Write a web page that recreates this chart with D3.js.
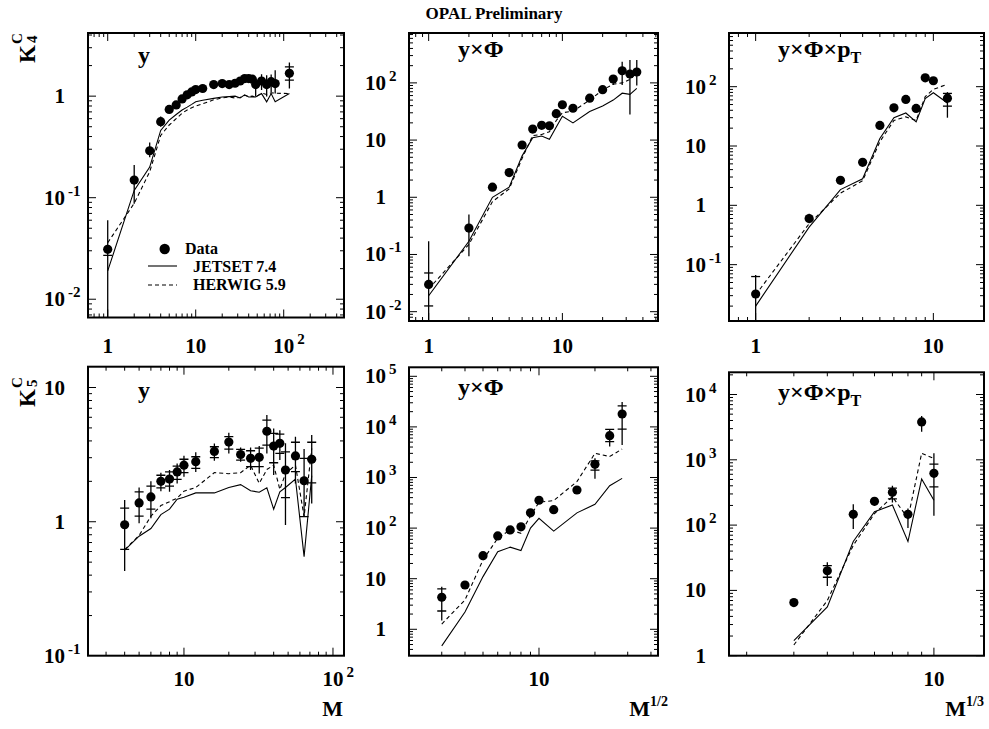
<!DOCTYPE html>
<html><head><meta charset="utf-8">
<script src="https://cdn.jsdelivr.net/npm/d3@7"></script>
<style>
body{margin:0;background:#fff;}
svg{display:block;}
text{font-family:"Liberation Serif","Times New Roman",serif;font-weight:bold;fill:#000;}
</style></head><body>
<svg id="c" width="989" height="729"></svg>
<script>
// ---------------- DATA ----------------
const chartTitle = "OPAL Preliminary";
const legendLabels = ["Data", "JETSET 7.4", "HERWIG 5.9"];
const rowTitles = ["4", "5"];             // K^C_4, K^C_5
const xTitles = ["M", "1/2", "1/3"];     // M, M^{1/2}, M^{1/3}
const panelLabels = ["y", "y×Φ", "y×Φ×p"];

// K4 vs M, y
const k4y_x      = [1,2,3,4,5,6,7,8,9,10,12,16,20,24,28,32,36,40,44,48,56,64,72,80,116];
const k4y_data   = [0.031,0.149,0.29,0.56,0.74,0.82,0.94,1.03,1.10,1.16,1.19,1.30,1.33,1.30,1.34,1.41,1.49,1.49,1.47,1.30,1.41,1.30,1.39,1.33,1.68];
const k4y_lo     = [0.0066,0.087,0.25,0.50,0.68,0.77,0.89,0.98,1.05,1.11,1.14,1.25,1.28,1.25,1.28,1.35,1.42,1.40,1.37,0.99,1.15,0.99,1.10,1.06,1.19];
const k4y_hi     = [0.060,0.21,0.35,0.63,0.80,0.87,0.99,1.08,1.15,1.21,1.24,1.35,1.38,1.35,1.40,1.47,1.56,1.58,1.58,1.49,1.64,1.61,1.63,1.80,2.15];
const k4y_tlo    = [0.027,null,null,null,null,null,null,null,null,null,null,null,null,null,null,null,null,null,null,null,null,null,null,null,1.44];
const k4y_thi    = [null,null,null,null,null,null,null,null,null,null,null,null,null,null,null,null,null,null,null,null,null,null,null,null,1.94];
const k4y_jetset = [0.019,0.118,0.20,0.46,0.58,0.66,0.73,0.78,0.83,0.88,0.91,0.95,0.98,0.99,1.0,0.96,1.03,0.98,0.98,0.98,1.06,0.88,1.06,0.88,1.06];
const k4y_herwig = [0.036,0.088,0.18,0.41,0.52,0.60,0.68,0.73,0.77,0.80,0.84,0.92,0.96,0.98,0.96,0.97,1.02,0.99,1.0,0.98,1.07,1.04,1.08,1.07,1.06];

// K4 vs M^{1/2}, y x Phi
const k4yp_x      = [1,2,3,4,5,6,7,8,9,10,12,16,20,24,28,32,36];
const k4yp_data   = [0.03,0.29,1.5,2.7,8.2,15.6,18.1,17.8,29,41.5,36,54,76,117,163,143,155];
const k4yp_lo     = [0.007,0.093,1.4,2.5,7.8,15,17.4,17.1,27.5,39,34,51,72,92,92,28,90];
const k4yp_hi     = [0.17,0.5,1.6,2.9,8.6,16.3,18.8,18.5,30.5,44,38,57,80,128,235,250,250];
const k4yp_tlo    = [0.0126,null,null,null,null,null,null,null,null,null,null,null,null,null,null,null,null];
const k4yp_thi    = [0.0475,null,null,null,null,null,null,null,null,null,null,null,null,null,null,null,null];
const k4yp_jetset = [0.019,0.17,1.0,1.5,5.3,11,11.8,10.3,17,26,20,31.5,39.5,50,66,63,80];
const k4yp_herwig = [0.025,0.15,0.84,1.4,4.8,12,12.5,14,22,30,32,50,75,95,100,115,150];

// K4 vs M^{1/3}, y x Phi x pT
const k4ypp_x      = [1,2,3,4,5,6,7,8,9,10,12];
const k4ypp_data   = [0.032,0.6,2.64,5.3,22.2,44,61,43,141,126,64];
const k4ypp_lo     = [0.0112,0.5,2.5,5.0,21,42,58,41,134,120,30];
const k4ypp_hi     = [0.067,0.72,2.8,5.6,23.4,46,64,45,148,132,81];
const k4ypp_tlo    = [null,null,null,null,null,null,null,null,null,null,47];
const k4ypp_thi    = [0.063,null,null,null,null,null,null,null,null,null,77];
const k4ypp_jetset = [0.02,0.43,1.84,2.8,13.4,30,36,25.5,63,79,53];
const k4ypp_herwig = [0.031,0.49,1.6,2.6,11.8,27,31,27,68,90,110];

// K5 vs M, y
const k5y_x      = [4,5,6,7,8,9,10,12,16,20,24,28,32,36,40,44,48,56,64,72];
const k5y_data   = [0.95,1.38,1.53,2.0,2.08,2.35,2.64,2.8,3.34,3.92,3.17,2.97,3.02,4.72,3.66,3.84,2.43,3.09,2.02,2.92];
const k5y_lo     = [0.43,0.975,1.06,1.69,1.67,1.93,2.16,2.35,2.85,3.23,2.8,2.43,2.29,3.23,2.23,2.88,0.945,1.93,1.09,1.37];
const k5y_hi     = [1.45,1.8,2.0,2.32,2.43,2.72,3.1,3.3,3.83,4.6,3.58,3.58,3.66,6.24,4.96,4.8,3.84,4.3,3.48,4.43];
const k5y_tlo    = [0.623,1.10,1.24,1.79,1.84,2.07,2.32,2.50,3.0,3.48,2.88,2.57,2.57,3.72,2.75,3.23,1.51,2.36,1.09,1.95];
const k5y_thi    = [1.265,1.67,1.84,2.22,2.35,2.60,2.92,3.05,3.62,4.30,3.46,3.38,3.54,5.72,4.56,4.50,3.32,3.91,2.97,3.91];
const k5y_jetset = [0.615,0.78,0.89,1.13,1.24,1.47,1.52,1.64,1.64,1.8,1.89,1.70,1.66,1.79,1.24,1.67,1.8,2.08,0.55,2.2];
const k5y_herwig = [0.62,0.79,1.10,1.32,1.41,1.5,1.69,1.8,2.32,2.28,2.32,2.64,1.93,2.45,2.64,1.74,2.28,2.64,1.09,3.52];

// K5 vs M^{1/2}, y x Phi
const k5yp_x      = [3,4,5,6,7,8,9,10,12,16,20,24,28];
const k5yp_data   = [4.3,7.5,28.5,70,92,106,200,355,231,566,1820,6700,18000];
const k5yp_lo     = [1.5,6.5,25,64,85,98,185,330,215,530,950,4100,4400];
const k5yp_hi     = [6.9,9.0,32,76,99,114,215,380,247,600,2400,8700,31000];
const k5yp_tlo    = [2.3,null,null,null,null,null,null,null,null,null,1400,5100,9000];
const k5yp_thi    = [6.3,null,null,null,null,null,null,null,null,null,2130,8900,26000];
const k5yp_jetset = [0.47,2.2,11,34,42,36,100,156,87,200,295,690,960];
const k5yp_herwig = [1.27,3.8,23.5,63,92,79,174,324,350,830,3000,2600,3650];

// K5 vs M^{1/3}, y x Phi x pT
const k5ypp_x      = [3,4,5,6,7,8,9,10];
const k5ypp_data   = [6.5,20,146,231,318,146,3800,620];
const k5ypp_lo     = [5.9,11.7,87,200,222,90,2700,139];
const k5ypp_hi     = [7.2,27,208,260,400,180,4700,1260];
const k5ypp_tlo    = [null,15.9,null,null,252,null,null,385];
const k5ypp_thi    = [null,23.9,null,null,369,null,null,860];
const k5ypp_jetset = [1.7,5.6,56,160,203,56,510,240];
const k5ypp_herwig = [1.46,7,49,150,272,127,1260,1050];

// tick labels (values that carry labels)
const yLabels = [[0.01,0.1,1],[0.01,0.1,1,10,100],[0.1,1,10,100],[0.1,1,10],[1,10,100,1e3,1e4,1e5],[1,10,100,1e3,1e4]];
const xLabels = [[1,10,100],[1,10],[1,10],[10,100],[10],[10]];

// ---------------- LAYOUT ----------------
const panels = [
  {frame:[88,33,344,317.5], xl:[-0.224,2.685], yl:[-2.18,0.622],
   d:[k4y_x,k4y_data,k4y_lo,k4y_hi,k4y_tlo,k4y_thi,k4y_jetset,k4y_herwig], lab:[138,63], sub:false, row:0},
  {frame:[409,33,658,321], xl:[-0.147,1.715], yl:[-2.163,2.872],
   d:[k4yp_x,k4yp_data,k4yp_lo,k4yp_hi,k4yp_tlo,k4yp_thi,k4yp_jetset,k4yp_herwig], lab:[458,57], sub:false, row:0},
  {frame:[729,33,984,321], xl:[-0.150,1.285], yl:[-1.95,2.905],
   d:[k4ypp_x,k4ypp_data,k4ypp_lo,k4ypp_hi,k4ypp_tlo,k4ypp_thi,k4ypp_jetset,k4ypp_herwig], lab:[778,57], sub:true, row:0},
  {frame:[88,366.7,344,655.7], xl:[0.356,2.074], yl:[-0.998,1.155],
   d:[k5y_x,k5y_data,k5y_lo,k5y_hi,k5y_tlo,k5y_thi,k5y_jetset,k5y_herwig], lab:[138,398], sub:false, row:1},
  {frame:[409,367.3,658,655.7], xl:[0.301,1.64], yl:[-0.522,5.178],
   d:[k5yp_x,k5yp_data,k5yp_lo,k5yp_hi,k5yp_tlo,k5yp_thi,k5yp_jetset,k5yp_herwig], lab:[458,395], sub:false, row:1},
  {frame:[729,372.3,984,655.7], xl:[0.235,1.187], yl:[0,4.34],
   d:[k5ypp_x,k5ypp_data,k5ypp_lo,k5ypp_hi,k5ypp_tlo,k5ypp_thi,k5ypp_jetset,k5ypp_herwig], lab:[778,400], sub:true, row:1}
];

const svg = d3.select('#c');
const LAB = 21, SUP = 15;
svg.append('rect').attr('width',989).attr('height',729).attr('fill','#fff');

function logTicks(lo, hi){
  const out=[];
  for(let k=Math.floor(lo)-1;k<=Math.ceil(hi);k++){
    for(let m=1;m<=9;m++){
      const v=m*Math.pow(10,k), lv=Math.log10(v);
      if(lv>=lo-1e-6 && lv<=hi+1e-6) out.push({v, major:m===1});
    }
  }
  return out;
}
function powLabel(g, v, x, y, anchor){
  const e=Math.round(Math.log10(v));
  const base = e===0 ? '1' : '10';
  const t=g.append('text').attr('x',x).attr('y',y).attr('text-anchor',anchor).attr('font-size',LAB).text(base);
  if(e!==0 && e!==1){
    const w=t.node().getComputedTextLength();
    const sx = anchor==='end' ? x+3 : x+w/2+3;
    g.append('text').attr('x',sx).attr('y',y-9).attr('font-size',SUP).text(String(e));
  }
}

panels.forEach((p,i)=>{
  const [x0,y0,x1,y1]=p.frame;
  const x=d3.scaleLog().domain([10**p.xl[0],10**p.xl[1]]).range([x0,x1]);
  const y=d3.scaleLog().domain([10**p.yl[0],10**p.yl[1]]).range([y1,y0]);
  const [xs,ys,lo,hi,tlo,thi,jet,her]=p.d;
  const g=svg.append('g');
  const cid='clip'+i;
  g.append('clipPath').attr('id',cid).append('rect').attr('x',x0).attr('y',y0).attr('width',x1-x0).attr('height',y1-y0);
  const pg=g.append('g').attr('clip-path',`url(#${cid})`);
  const line=d3.line().x(d=>x(d[0])).y(d=>y(d[1]));
  pg.append('path').datum(d3.zip(xs,jet)).attr('d',line).attr('fill','none').attr('stroke','#000').attr('stroke-width',1.1);
  pg.append('path').datum(d3.zip(xs,her)).attr('d',line).attr('fill','none').attr('stroke','#000').attr('stroke-width',1.1).attr('stroke-dasharray','4,3');
  xs.forEach((xv,j)=>{
    const cx=x(xv);
    pg.append('line').attr('x1',cx).attr('x2',cx).attr('y1',y(lo[j])).attr('y2',y(hi[j])).attr('stroke','#000').attr('stroke-width',1.3);
    [tlo[j],thi[j]].forEach(tv=>{ if(tv!=null){
      pg.append('line').attr('x1',cx-4.5).attr('x2',cx+4.5).attr('y1',y(tv)).attr('y2',y(tv)).attr('stroke','#000').attr('stroke-width',1.3);
    }});
    pg.append('circle').attr('cx',cx).attr('cy',y(ys[j])).attr('r',4.6).attr('fill','#000');
  });
  // frame
  g.append('rect').attr('x',x0).attr('y',y0).attr('width',x1-x0).attr('height',y1-y0).attr('fill','none').attr('stroke','#000').attr('stroke-width',2);
  // ticks
  logTicks(p.yl[0],p.yl[1]).forEach(t=>{
    const yy=y(t.v), L=t.major?8:4;
    g.append('line').attr('x1',x0).attr('x2',x0+L).attr('y1',yy).attr('y2',yy).attr('stroke','#000').attr('stroke-width',1);
    g.append('line').attr('x1',x1).attr('x2',x1-L).attr('y1',yy).attr('y2',yy).attr('stroke','#000').attr('stroke-width',1);
  });
  logTicks(p.xl[0],p.xl[1]).forEach(t=>{
    const xx=x(t.v), L=t.major?8:4;
    g.append('line').attr('x1',xx).attr('x2',xx).attr('y1',y1).attr('y2',y1-L).attr('stroke','#000').attr('stroke-width',1);
    g.append('line').attr('x1',xx).attr('x2',xx).attr('y1',y0).attr('y2',y0+L).attr('stroke','#000').attr('stroke-width',1);
  });
  // tick labels
  yLabels[i].forEach(v=>powLabel(g,v,x0-23,y(v)+7,'end'));
  const xBase = p.row===0 ? 353 : 686;
  xLabels[i].forEach(v=>powLabel(g,v,x(v),xBase,'middle'));
  // panel label
  const lt=g.append('text').attr('x',p.lab[0]).attr('y',p.lab[1]).attr('font-size',24).text(panelLabels[i%3]);
  if(p.sub){ lt.append('tspan').attr('font-size',16).attr('dy',6).text('T'); }
});

// title
svg.append('text').attr('x',494).attr('y',19).attr('text-anchor','middle').attr('font-size',17).text(chartTitle);

// y axis titles
[[35,63,0],[35,407,1]].forEach(([tx,ty,r])=>{
  const g=svg.append('g').attr('transform',`translate(${tx},${ty}) rotate(-90)`);
  g.append('text').attr('x',0).attr('y',0).attr('font-size',23).text('K');
  g.append('text').attr('x',19).attr('y',-13).attr('font-size',15).text('C');
  g.append('text').attr('x',20).attr('y',2).attr('font-size',15).text(rowTitles[r]);
});

// x axis titles
svg.append('text').attr('x',343).attr('y',716).attr('text-anchor','end').attr('font-size',22).text(xTitles[0]);
[[668,1],[984,2]].forEach(([ex,k])=>{
  const t=svg.append('text').attr('x',ex).attr('y',716).attr('text-anchor','end').attr('font-size',22).text('M');
  t.append('tspan').attr('font-size',14).attr('dy',-10).text(xTitles[k]);
});

// legend (in first panel)
const lg=svg.append('g');
lg.append('circle').attr('cx',164.7).attr('cy',249).attr('r',5.2).attr('fill','#000');
lg.append('text').attr('x',185).attr('y',254).attr('font-size',16).text(legendLabels[0]);
lg.append('line').attr('x1',148).attr('x2',177).attr('y1',266).attr('y2',266).attr('stroke','#000').attr('stroke-width',1.1);
lg.append('text').attr('x',193).attr('y',272).attr('font-size',16).text(legendLabels[1]);
lg.append('line').attr('x1',148).attr('x2',177).attr('y1',285).attr('y2',285).attr('stroke','#000').attr('stroke-width',1.1).attr('stroke-dasharray','4,3');
lg.append('text').attr('x',193).attr('y',290).attr('font-size',16).text(legendLabels[2]);
</script>
</body></html>
